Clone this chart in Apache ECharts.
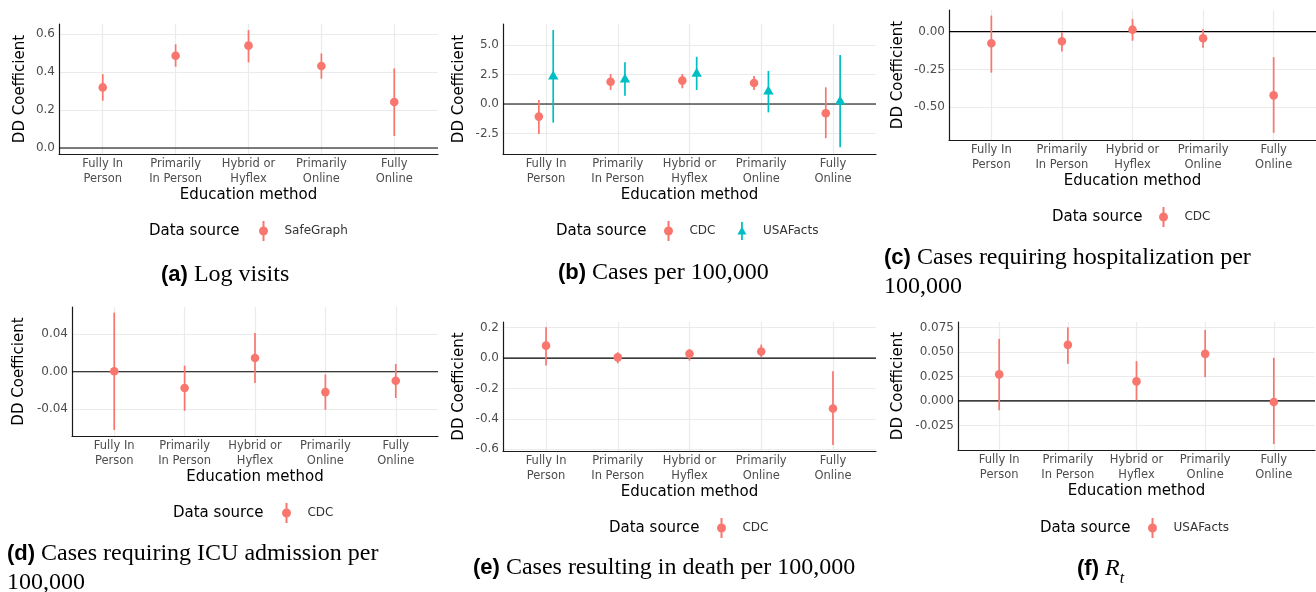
<!DOCTYPE html>
<html lang="en">
<head>
<meta charset="UTF-8">
<title>DD coefficients by education method</title>
<script src="https://cdn.jsdelivr.net/npm/echarts@6.0.0/dist/echarts.min.js"></script>
<style>
    html, body { margin: 0; padding: 0; background: #fff; }
    #main { width: 1316px; height: 592px; }
</style>
</head>
<body>
<div id="main"></div>
<script type="text/javascript">
// categories (education method), placed at 1..5 like ggplot does
var methods = ['Fully In\nPerson', 'Primarily\nIn Person', 'Hybrid or\nHyflex', 'Primarily\nOnline', 'Fully\nOnline'];
var methodX = [1, 2, 3, 4, 5];

// (a) log visits - SafeGraph
var visitsEst  = [0.319, 0.486, 0.539, 0.432, 0.242];
var visitsLow  = [0.249, 0.428, 0.451, 0.365, 0.063];
var visitsHigh = [0.389, 0.546, 0.621, 0.498, 0.419];

// (b) cases per 100,000 - CDC and USAFacts
var casesCdcEst  = [-1.07, 1.89, 1.98, 1.78, -0.79];
var casesCdcLow  = [-2.54, 1.19, 1.33, 1.19, -2.90];
var casesCdcHigh = [0.34, 2.54, 2.54, 2.37, 1.41];
var casesUsaEst  = [2.37, 2.12, 2.60, 1.10, 0.25];
var casesUsaLow  = [-1.58, 0.70, 1.19, -0.71, -3.67];
var casesUsaHigh = [6.27, 3.53, 4.00, 2.80, 4.15];

// (c) hospitalization per 100,000 - CDC
var hospEst  = [-0.077, -0.064, 0.013, -0.044, -0.421];
var hospLow  = [-0.271, -0.132, -0.060, -0.106, -0.668];
var hospHigh = [0.106, -0.004, 0.084, 0.016, -0.169];

// (d) ICU admission per 100,000 - CDC
var icuEst  = [0.0005, -0.0174, 0.0146, -0.0217, -0.0096];
var icuLow  = [-0.062, -0.0416, -0.012, -0.0405, -0.028];
var icuHigh = [0.063, 0.0064, 0.0413, -0.0029, 0.0082];

// (e) deaths per 100,000 - CDC
var deathEst  = [0.082, 0.005, 0.028, 0.043, -0.331];
var deathLow  = [-0.049, -0.034, -0.016, 0.005, -0.571];
var deathHigh = [0.203, 0.038, 0.060, 0.089, -0.087];

// (f) Rt - USAFacts
var rtEst  = [0.0272, 0.0574, 0.020, 0.0482, -0.001];
var rtLow  = [-0.0095, 0.038, 0.0007, 0.0244, -0.044];
var rtHigh = [0.0635, 0.0753, 0.0407, 0.0726, 0.0441];

// y tick labels per panel
var ticksA = [0, 0.2, 0.4, 0.6];
var ticksB = [-2.5, 0, 2.5, 5];
var ticksC = [-0.5, -0.25, 0];
var ticksD = [-0.04, 0, 0.04];
var ticksE = [-0.6, -0.4, -0.2, 0, 0.2];
var ticksF = [-0.025, 0, 0.025, 0.05, 0.075];

var captions = [
    ['a', 'Log visits'],
    ['b', 'Cases per 100,000'],
    ['c', 'Cases requiring hospitalization per', '100,000'],
    ['d', 'Cases requiring ICU admission per', '100,000'],
    ['e', 'Cases resulting in death per 100,000']
];

var RED = '#F8766D', TEAL = '#00BFC4';
var FONT = 'DejaVu Sans';
var XMIN = 0.4, XMAX = 5.6;
var ICON_DOT = 'path://M4,0H6V20H4Z M0.5,10A4.5,4.5 0 0 1 9.5,10A4.5,4.5 0 0 1 0.5,10Z';
var ICON_TRI = 'path://M4,0H6V20H4Z M5,5L10,14H0Z';

function rows(est, lo, hi, shift) {
    return est.map(function (v, i) {
        return [methodX[i] + shift, v, lo[i], hi[i]];
    });
}

// ggplot style pointrange: vertical interval + point
function pointRange(shape, color) {
    return function (params, api) {
        var x = api.value(0);
        var top = api.coord([x, api.value(3)]);
        var bot = api.coord([x, api.value(2)]);
        var c = api.coord([x, api.value(1)]);
        var kids = [{
            type: 'line',
            shape: {x1: top[0], y1: top[1], x2: bot[0], y2: bot[1]},
            style: {stroke: color, lineWidth: 1.7}
        }];
        if (shape === 'tri') {
            kids.push({type: 'polygon', shape: {points: [[c[0], c[1] - 5.5], [c[0] + 5.2, c[1] + 3.5], [c[0] - 5.2, c[1] + 3.5]]}, style: {fill: color}});
        } else {
            kids.push({type: 'circle', shape: {cx: c[0], cy: c[1], r: 4.3}, style: {fill: color}});
        }
        return {type: 'group', children: kids};
    };
}

var panels = [
    {grid: {left: 59, top: 24, width: 379, height: 130}, yMin: -0.0316, yMax: 0.653, ticks: ticksA, digits: 1, nameGap: 31,
        series: [{name: 'SafeGraph', color: RED, shape: 'dot', data: rows(visitsEst, visitsLow, visitsHigh, 0)}],
        leg: [259, 221], src: [149, 231]},
    {grid: {left: 503, top: 24, width: 373, height: 130}, yMin: -4.24, yMax: 6.78, ticks: ticksB, digits: 1, nameGap: 36,
        series: [{name: 'CDC', color: RED, shape: 'dot', data: rows(casesCdcEst, casesCdcLow, casesCdcHigh, -0.1)},
                 {name: 'USAFacts', color: TEAL, shape: 'tri', data: rows(casesUsaEst, casesUsaLow, casesUsaHigh, 0.1)}],
        leg: [664, 221], src: [556, 231]},
    {grid: {left: 949, top: 10, width: 367, height: 130}, yMin: -0.716, yMax: 0.143, ticks: ticksC, digits: 2, nameGap: 43,
        series: [{name: 'CDC', color: RED, shape: 'dot', data: rows(hospEst, hospLow, hospHigh, 0)}],
        leg: [1159, 207], src: [1052, 217]},
    {grid: {left: 72, top: 307, width: 366, height: 129}, yMin: -0.0685, yMax: 0.069, ticks: ticksD, digits: 2, nameGap: 45,
        series: [{name: 'CDC', color: RED, shape: 'dot', data: rows(icuEst, icuLow, icuHigh, 0)}],
        leg: [282, 503], src: [173, 513]},
    {grid: {left: 503, top: 322, width: 373, height: 129}, yMin: -0.611, yMax: 0.2376, ticks: ticksE, digits: 1, nameGap: 36,
        series: [{name: 'CDC', color: RED, shape: 'dot', data: rows(deathEst, deathLow, deathHigh, 0)}],
        leg: [717, 518], src: [609, 528]},
    {grid: {left: 958, top: 322, width: 357, height: 128}, yMin: -0.0502, yMax: 0.0808, ticks: ticksF, digits: 3, nameGap: 52,
        series: [{name: 'USAFacts', color: RED, shape: 'dot', data: rows(rtEst, rtLow, rtHigh, 0)}],
        leg: [1148, 518], src: [1040, 528]}
];

var axisLine = {show: true, onZero: false, lineStyle: {color: '#1a1a1a', width: 1.2}};
var gridLine = {show: true, lineStyle: {color: '#EBEBEB', width: 1.2}};

var option = {
    animation: false,
    backgroundColor: '#fff',
    grid: [], xAxis: [], yAxis: [], series: [], legend: [], graphic: []
};

panels.forEach(function (p, i) {
    option.grid.push(p.grid);
    option.xAxis.push({
        gridIndex: i, type: 'value', min: XMIN, max: XMAX,
        axisLine: axisLine,
        axisTick: {show: false, customValues: methodX},
        splitLine: gridLine,
        axisLabel: {
            customValues: methodX,
            formatter: function (v) { return methods[Math.round(v) - 1]; },
            fontFamily: FONT, fontSize: 11.5, lineHeight: 15, color: '#4D4D4D', margin: 3
        },
        name: 'Education method', nameLocation: 'middle', nameGap: 32,
        nameTextStyle: {fontFamily: FONT, fontSize: 15, color: '#000'}
    });
    option.yAxis.push({
        gridIndex: i, type: 'value', min: p.yMin, max: p.yMax,
        axisLine: axisLine,
        axisTick: {show: false, customValues: p.ticks},
        splitLine: gridLine,
        axisLabel: {
            customValues: p.ticks,
            formatter: function (v) { return v.toFixed(p.digits); },
            fontFamily: FONT, fontSize: 12, color: '#4D4D4D', margin: 4
        },
        name: 'DD Coefficient', nameLocation: 'middle', nameRotate: 90, nameGap: p.nameGap,
        nameTextStyle: {fontFamily: FONT, fontSize: 15, color: '#000'}
    });
    // reference line at zero
    option.series.push({
        type: 'line', xAxisIndex: i, yAxisIndex: i, silent: true, symbol: 'none',
        data: [[XMIN, 0], [XMAX, 0]],
        lineStyle: {color: '#000', width: 1.2}, z: 1
    });
    p.series.forEach(function (s) {
        option.series.push({
            type: 'custom', name: s.name, xAxisIndex: i, yAxisIndex: i,
            itemStyle: {color: s.color},
            renderItem: pointRange(s.shape, s.color),
            data: s.data, z: 3
        });
    });
    option.legend.push({
        left: p.leg[0], top: p.leg[1], padding: 0, itemWidth: 9, itemHeight: 20, itemGap: 22,
        selectedMode: false,
        data: p.series.map(function (s) {
            return {name: s.name, icon: s.shape === 'tri' ? ICON_TRI : ICON_DOT, itemStyle: {color: s.color}};
        }),
        formatter: '   {name}',
        textStyle: {fontFamily: FONT, fontSize: 12, color: '#333'}
    });
    option.graphic.push({
        type: 'text', x: p.src[0], y: p.src[1],
        style: {text: 'Data source', fontFamily: FONT, fontSize: 15, fill: '#000', verticalAlign: 'middle'}
    });
});

var capRich = {
    b: {fontFamily: 'Liberation Sans', fontWeight: 'bold', fontSize: 22, fill: '#000'},
    s: {fontFamily: 'Liberation Serif', fontSize: 24, fill: '#000'},
    r: {fontFamily: 'Liberation Serif', fontStyle: 'italic', fontSize: 24, fill: '#000'},
    t: {fontFamily: 'Liberation Serif', fontStyle: 'italic', fontSize: 16, fill: '#000', verticalAlign: 'bottom', lineHeight: 36}
};
function capText(txt, x, y) {
    return {type: 'text', x: x, y: y, style: {text: txt, rich: capRich, verticalAlign: 'middle'}};
}
var capPos = [[161, 275], [558, 273], [884, 258], [7, 554], [473, 568]];
captions.forEach(function (c, i) {
    option.graphic.push(capText('{b|(' + c[0] + ')}{s| ' + c[1] + '}', capPos[i][0], capPos[i][1]));
    if (c[2]) {
        option.graphic.push(capText('{s|' + c[2] + '}', capPos[i][0], capPos[i][1] + 29));
    }
});
option.graphic.push(capText('{b|(f)}{s| }{r|R}{t|t}', 1077, 569));

var myChart = echarts.init(document.getElementById('main'));
myChart.setOption(option);
</script>
</body>
</html>
